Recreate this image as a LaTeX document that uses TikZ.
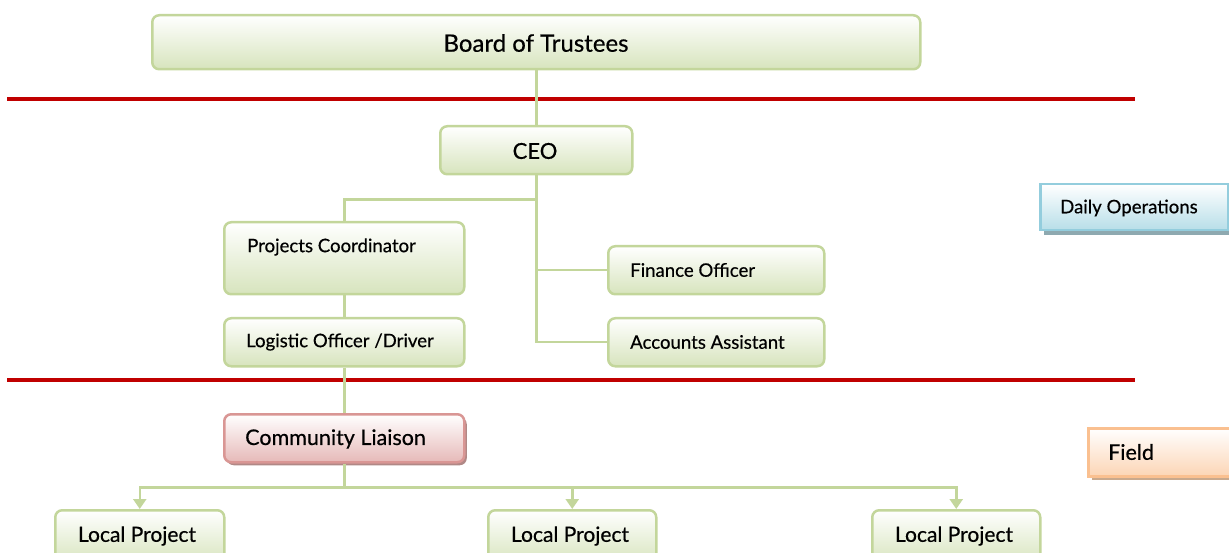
\documentclass[tikz,border=0pt]{standalone}
\usepackage{fontspec}
\setmainfont{Lato}[FakeBold=0.5]
\usetikzlibrary{arrows.meta,shadows}
\definecolor{gborder}{HTML}{C3D69B}
\definecolor{gfill}{HTML}{D7E4BD}
\definecolor{redline}{HTML}{C00000}
\definecolor{pborder}{HTML}{D99694}
\definecolor{pfill}{HTML}{E6B9B8}
\definecolor{pshadow}{HTML}{B08886}
\definecolor{bborder}{HTML}{93CDDD}
\definecolor{bfill}{HTML}{B7DEE8}
\definecolor{bshadow}{HTML}{8EA9B0}
\definecolor{oborder}{HTML}{FAC090}
\definecolor{ofill}{HTML}{FCD5B5}
\definecolor{oshadow}{HTML}{C9A98D}
\tikzset{
  gbox/.style={draw=gborder, line width=2.5pt, rounded corners=7pt, top color=white, bottom color=gfill, inner sep=0pt, anchor=north west},
  pbox/.style={draw=pborder, line width=2.5pt, rounded corners=7pt, top color=white, bottom color=pfill, inner sep=0pt, anchor=north west,
     drop shadow={shadow xshift=2.5pt, shadow yshift=-3pt, fill=pshadow, opacity=1}},
  bbox/.style={draw=bborder, line width=2.5pt, top color=white, bottom color=bfill, inner sep=0pt, anchor=north west,
     drop shadow={shadow xshift=4pt, shadow yshift=-5pt, fill=bshadow, opacity=1}},
  obox/.style={draw=oborder, line width=2.5pt, top color=white, bottom color=ofill, inner sep=0pt, anchor=north west,
     drop shadow={shadow xshift=4pt, shadow yshift=-4pt, fill=oshadow, opacity=1}},
  conn/.style={draw=gborder, line width=2.5pt},
  arr/.style={conn, -{Triangle[width=13pt,length=10pt]}},
  lbl/.style={anchor=west, inner sep=0pt, font=\fontsize{18.6}{22}\selectfont},
  big/.style={inner sep=0pt, font=\fontsize{21.5}{24}\selectfont},
  red/.style={draw=redline, line width=4pt},
}
\begin{document}
\begin{tikzpicture}[x=1pt,y=-1pt]
\useasboundingbox (0,0) rectangle (1229,553);
% red separator lines
\coordinate (r1a) at (7,99); \coordinate (r1b) at (1135,99);
\coordinate (r2a) at (7,380); \coordinate (r2b) at (1135,380);
% boxes
\node[gbox, minimum width=768pt, minimum height=54pt] (board) at (151,14) {};
\node[big, font=\fontsize{24}{28}\selectfont] (boardt) at (536,43) {Board of Trustees};
\node[gbox, minimum width=192pt, minimum height=48pt] (ceo) at (439,125) {};
\node[big, font=\fontsize{22}{26}\selectfont] (ceot) at (535,151) {CEO};
\node[gbox, minimum width=240pt, minimum height=72pt] (pc) at (223,221) {};
\node[lbl] (pct) at (247,247) {Projects Coordinator};
\node[gbox, minimum width=240pt, minimum height=48pt] (lo) at (223,317) {};
\node[lbl] (lot) at (246,342) {Logistic Officer /Driver};
\node[gbox, minimum width=216pt, minimum height=48pt] (fo) at (607,245) {};
\node[lbl] (fot) at (630,270) {Finance Officer};
\node[gbox, minimum width=216pt, minimum height=48pt] (aa) at (607,317) {};
\node[lbl] (aat) at (630,342) {Accounts Assistant};
\node[pbox, minimum width=240pt, minimum height=48pt] (cl) at (223,413) {};
\node[lbl, font=\fontsize{21.5}{24}\selectfont] (clt) at (245,439) {Community Liaison};
\node[gbox, minimum width=169pt, minimum height=54pt] (lp1) at (54,509) {};
\node[big, font=\fontsize{21}{24}\selectfont] (lp1t) at (137,536) {Local Project};
\node[gbox, minimum width=168pt, minimum height=54pt] (lp2) at (487,509) {};
\node[big, font=\fontsize{21}{24}\selectfont] (lp2t) at (570,536) {Local Project};
\node[gbox, minimum width=168pt, minimum height=54pt] (lp3) at (871,509) {};
\node[big, font=\fontsize{21}{24}\selectfont] (lp3t) at (954,536) {Local Project};
\node[bbox, minimum width=188pt, minimum height=46pt] (daily) at (1039,183) {};
\node[lbl] (dailyt) at (1060,208) {Daily Operations};
\node[obox, minimum width=145pt, minimum height=48pt] (field) at (1087,427) {};
\node[lbl, font=\fontsize{21.5}{24}\selectfont] (fieldt) at (1108,452) {Field};
% red lines
\draw[red] (r1a) -- (r1b);
\draw[red] (r2a) -- (r2b);
% connectors
\draw[conn] (board.south) -- (ceo.north);
\draw[conn] (ceo.south) |- (aa.west);
\draw[conn] (ceo.south) ++(0,24) -| (pc.north);
\draw[conn] (ceo.south |- fo.west) -- (fo.west);
\draw[conn] (pc.south) -- (lo.north);
\draw[conn] (lo.south) -- (cl.north);
\draw[conn] (cl.south) -- ++(0,24) coordinate (hb);
\draw[arr] (hb) -| (lp1.north);
\draw[arr] (hb) -| (lp2.north);
\draw[arr] (hb) -| (lp3.north);
\end{tikzpicture}
\end{document}
